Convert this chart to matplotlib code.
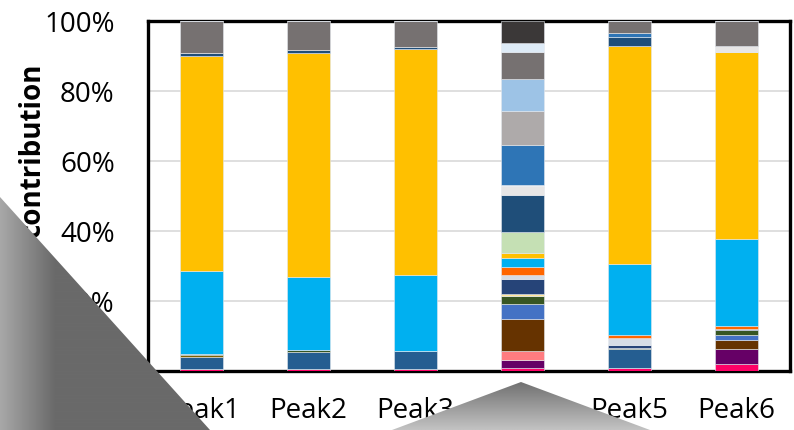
import numpy as np
import matplotlib
matplotlib.use("Agg")
import matplotlib.pyplot as plt
from matplotlib.patches import Polygon

plt.rcParams['font.family'] = ['Open Sans', 'DejaVu Sans']

# categories
peaks = ['Peak1', 'Peak2', 'Peak3', 'Peak4', 'Peak5', 'Peak6']

# stacked components, bottom to top (percent of each peak)
pink      = [0.7, 0.6, 0.6, 0.9, 0.9, 2.0]
purple    = [0, 0, 0, 2.3, 0, 4.3]
salmon    = [0, 0, 0, 2.6, 0, 0]
brown     = [0, 0, 0, 9.1, 0, 2.6]
blue      = [0, 0, 0, 4.3, 0, 1.4]
steel     = [3.4, 4.9, 5.1, 0, 5.4, 0]
olive     = [0.5, 0, 0, 0, 0, 0]
dkgreen   = [0.3, 0.6, 0, 2.3, 0.4, 1.4]
ltyellow  = [0, 0, 0, 0.6, 0, 0]
navy      = [0, 0, 0, 4.3, 0.6, 0.3]
ltgrey    = [0, 0, 0, 1.1, 2.0, 0]
orange    = [0, 0, 0, 2.3, 0.9, 0.9]
cyan      = [23.6, 20.9, 21.6, 2.6, 20.3, 24.8]
gold      = [61.5, 64.0, 64.7, 1.4, 62.4, 53.4]
ltgreen   = [0, 0, 0, 6.0, 0, 0]
dkblue    = [1.0, 0.8, 0.5, 10.6, 2.6, 0]
ltgrey2   = [0, 0, 0, 2.6, 0, 1.7]
midblue   = [0, 0, 0, 11.7, 1.2, 0]
grey      = [0, 0, 0, 9.7, 0, 0]
ltblue    = [0, 0, 0, 9.1, 0, 0]
dkgrey    = [9.0, 8.2, 7.5, 7.7, 3.3, 7.2]
paleblue  = [0, 0, 0, 2.6, 0, 0]
darkest   = [0, 0, 0, 6.2, 0, 0]

series = [pink, purple, salmon, brown, blue, steel, olive, dkgreen, ltyellow,
          navy, ltgrey, orange, cyan, gold, ltgreen, dkblue, ltgrey2, midblue,
          grey, ltblue, dkgrey, paleblue, darkest]
colors = ['#FF0066', '#660066', '#FF7C80', '#663300', '#4472C4', '#255E91',
          '#806000', '#375623', '#FFE699', '#264478', '#D6DCE5', '#FF6600',
          '#00B0F0', '#FFC000', '#C5E0B4', '#1F4E79', '#E7E6E6', '#2E75B6',
          '#AEAAAA', '#9DC3E6', '#767171', '#DEEBF7', '#3B3838']

yticks = [0, 20, 40, 60, 80, 100]

W, H = 794, 430
fig = plt.figure(figsize=(W / 100, H / 100), dpi=100)
ax = fig.add_axes([148 / W, (H - 371) / H, (790 - 148) / W, 350 / H])

x = np.arange(len(peaks))
bottom = np.zeros(len(peaks))
for vals, col in zip(series, colors):
    vals = np.array(vals, dtype=float)
    ax.bar(x, vals, bottom=bottom, width=0.41, color=col,
           edgecolor='#E4E8EE', linewidth=0.4, zorder=3)
    bottom += vals

ax.set_xlim(-0.5, len(peaks) - 0.5)
ax.set_ylim(0, 100)
ax.set_yticks(yticks)
ax.set_yticklabels([f'{t}%' for t in yticks], fontsize=20)
ax.set_xticks(x)
ax.set_xticklabels(peaks, fontsize=20)
ax.tick_params(axis='y', length=0, pad=24)
ax.tick_params(axis='x', length=0, pad=19)
ax.grid(axis='y', color='#D9D9D9', linewidth=1.2, zorder=0)
for s in ax.spines.values():
    s.set_linewidth(2.4)
    s.set_color('black')

fig.text(32 / W, 1 - 150 / H, 'contribution', rotation=90, fontsize=20,
         fontweight='bold', ha='center', va='center')

# grey shapes lying over the picture
ov = fig.add_axes([0, 0, 1, 1], zorder=10)
ov.set_xlim(0, W)
ov.set_ylim(H, 0)
ov.axis('off')

xs = np.arange(0, 220)
shade = 0.66 - 0.245 * np.clip(xs / 55.0, 0, 1)
img = np.tile(shade, (10, 1))
im = ov.imshow(img, cmap='gray', vmin=0, vmax=1, extent=[0, 220, H, 190],
               aspect='auto', interpolation='bilinear')
tri1 = Polygon([(0, 197), (210, 430), (0, 430)], closed=True,
               transform=ov.transData)
im.set_clip_path(tri1)

ys = np.linspace(0, 1, 50)[:, None]
img2 = np.tile(0.43 + 0.33 * ys, (1, 10))
im2 = ov.imshow(img2, cmap='gray', vmin=0, vmax=1, extent=[385, 655, H, 380],
                aspect='auto', interpolation='bilinear')
tri2 = Polygon([(521, 382), (392, 430), (650, 430)], closed=True,
               transform=ov.transData)
im2.set_clip_path(tri2)

fig.savefig('out.png', dpi=100)
